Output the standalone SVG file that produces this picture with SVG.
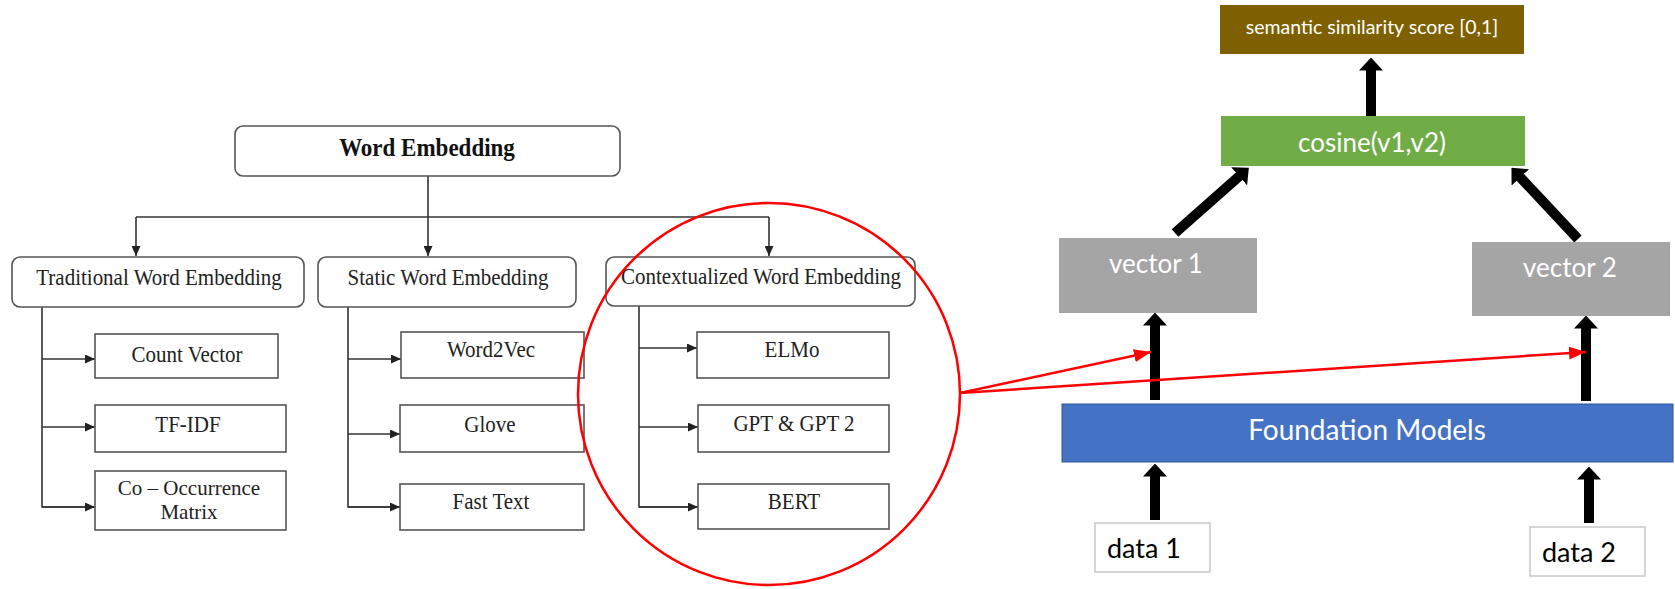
<svg xmlns="http://www.w3.org/2000/svg" width="1675" height="589" viewBox="0 0 1675 589">
<style>
.rb{fill:#fff;stroke:#555;stroke-width:1.6}
.lb{fill:#fff;stroke:#555;stroke-width:1.6}
.st{font-family:"Liberation Serif",serif;font-size:21px;fill:#222;text-anchor:middle}
.ln{fill:none;stroke:#333;stroke-width:1.6}
.tk{fill:none;stroke:#000;stroke-width:10}
.rd{fill:none;stroke:#f00;stroke-width:2.5}
.cb{font-family:Lato,"Open Sans",sans-serif;fill:#fff;text-anchor:middle}
</style>
<defs>
<marker id="sa" markerUnits="userSpaceOnUse" markerWidth="10" markerHeight="9" viewBox="0 0 10 9" refX="10" refY="4.5" orient="auto"><path d="M0,0 L10,4.5 L0,9 z" fill="#222"/></marker>
<marker id="ta" markerUnits="userSpaceOnUse" markerWidth="13" markerHeight="24" viewBox="0 0 13 24" refX="0.5" refY="12" orient="auto"><path d="M0,0 L13,12 L0,24 z" fill="#000"/></marker>
<marker id="ra" markerUnits="userSpaceOnUse" markerWidth="17" markerHeight="13" viewBox="0 0 17 13" refX="17" refY="6.5" orient="auto"><path d="M0,0 L17,6.5 L0,13 z" fill="#f00"/></marker>
</defs>
<rect width="1675" height="589" fill="#fff"/>

<g id="connectors">
<path class="ln" d="M428,176 V256" marker-end="url(#sa)"/>
<path class="ln" d="M136,217 H769"/>
<path class="ln" d="M136,217 V256" marker-end="url(#sa)"/>
<path class="ln" d="M769,217 V256" marker-end="url(#sa)"/>
<path class="ln" d="M42,307 V507 H95"/>
<path class="ln" d="M42,359 H95" marker-end="url(#sa)"/>
<path class="ln" d="M42,427 H95" marker-end="url(#sa)"/>
<path class="ln" d="M42,507 H95" marker-end="url(#sa)"/>
<path class="ln" d="M348,307 V507 H400"/>
<path class="ln" d="M348,359 H401" marker-end="url(#sa)"/>
<path class="ln" d="M348,434 H400" marker-end="url(#sa)"/>
<path class="ln" d="M348,507 H400" marker-end="url(#sa)"/>
<path class="ln" d="M639,306 V507 H698"/>
<path class="ln" d="M639,348 H697" marker-end="url(#sa)"/>
<path class="ln" d="M639,427 H698" marker-end="url(#sa)"/>
<path class="ln" d="M639,507 H698" marker-end="url(#sa)"/>
<path class="tk" d="M1371,116 V70" marker-end="url(#ta)"/>
<path class="tk" d="M1175,233 L1239.5,176" marker-end="url(#ta)"/>
<path class="tk" d="M1578,239 L1520,177" marker-end="url(#ta)"/>
<path class="tk" d="M1155,400 V325" marker-end="url(#ta)"/>
<path class="tk" d="M1586,401 V328" marker-end="url(#ta)"/>
<path class="tk" d="M1155,520 V476" marker-end="url(#ta)"/>
<path class="tk" d="M1589,523 V479" marker-end="url(#ta)"/>
</g>

<g id="word-embedding"><rect class="rb" x="235" y="126" width="385" height="50" rx="8"/><text transform="translate(427,156) scale(1,1.05)" style="font-family:'Liberation Serif',serif;font-size:23px;font-weight:bold;fill:#111;text-anchor:middle">Word Embedding</text></g>
<g id="traditional"><rect class="rb" x="12" y="257" width="292" height="50" rx="8"/><text class="st" transform="translate(159,285) scale(1,1.09)">Traditional Word Embedding</text></g>
<g id="static"><rect class="rb" x="318" y="257" width="258" height="50" rx="8"/><text class="st" transform="translate(448,285) scale(1,1.09)">Static Word Embedding</text></g>
<g id="contextualized"><rect class="rb" x="606" y="257" width="309" height="49" rx="8"/><text class="st" transform="translate(761,284) scale(1,1.09)">Contextualized Word Embedding</text></g>
<g id="count-vector"><rect class="lb" x="95" y="334" width="183" height="44"/><text class="st" transform="translate(187,362) scale(1,1.09)">Count Vector</text></g>
<g id="tf-idf"><rect class="lb" x="95" y="405" width="191" height="47"/><text class="st" transform="translate(188,432) scale(1,1.09)">TF-IDF</text></g>
<g id="co-occurrence"><rect class="lb" x="95" y="471" width="191" height="59"/><text class="st" x="189" y="495" font-size="20.5">Co – Occurrence</text><text class="st" x="189" y="519" font-size="20.5">Matrix</text></g>
<g id="word2vec"><rect class="lb" x="401" y="332" width="183" height="46"/><text class="st" transform="translate(491,357) scale(1,1.09)">Word2Vec</text></g>
<g id="glove"><rect class="lb" x="400" y="405" width="184" height="47"/><text class="st" transform="translate(490,432) scale(1,1.09)">Glove</text></g>
<g id="fasttext"><rect class="lb" x="400" y="484" width="184" height="46"/><text class="st" transform="translate(491,509) scale(1,1.09)">Fast Text</text></g>
<g id="elmo"><rect class="lb" x="697" y="332" width="192" height="46"/><text class="st" transform="translate(792,357) scale(1,1.09)">ELMo</text></g>
<g id="gpt"><rect class="lb" x="698" y="405" width="191" height="47"/><text class="st" transform="translate(794,431) scale(1,1.09)">GPT &amp; GPT 2</text></g>
<g id="bert"><rect class="lb" x="698" y="484" width="191" height="45"/><text class="st" transform="translate(794,509) scale(1,1.09)">BERT</text></g>

<g id="semantic"><rect x="1220" y="5" width="304" height="49" fill="#7F6000"/><text class="cb" x="1372" y="34" font-size="19.5">semantic similarity score [0,1]</text></g>
<g id="cosine"><rect x="1221" y="116" width="304" height="50" fill="#70AD47"/><text class="cb" x="1372" y="152" font-size="26">cosine(v1,v2)</text></g>
<g id="vector1"><rect x="1059" y="238" width="198" height="75" fill="#A5A5A5"/><text class="cb" x="1156" y="273" font-size="26">vector 1</text></g>
<g id="vector2"><rect x="1472" y="242" width="198" height="74" fill="#A5A5A5"/><text class="cb" x="1570" y="277" font-size="26">vector 2</text></g>
<g id="foundation"><rect x="1062" y="404" width="611" height="58" fill="#4472C4" stroke="#2F5597" stroke-width="1"/><text class="cb" x="1367" y="440" font-size="28">Foundation Models</text></g>
<g id="data1"><rect x="1095" y="523" width="115" height="49" fill="#fff" stroke="#C8C8C8" stroke-width="1.5"/><text x="1107" y="558" style="font-family:Lato,'Open Sans',sans-serif;font-size:27px;fill:#000">data 1</text></g>
<g id="data2"><rect x="1530" y="527" width="115" height="49" fill="#fff" stroke="#C8C8C8" stroke-width="1.5"/><text x="1542" y="562" style="font-family:Lato,'Open Sans',sans-serif;font-size:27px;fill:#000">data 2</text></g>

<g id="highlight">
<circle cx="769" cy="394" r="191" fill="none" stroke="#f00" stroke-width="2.5"/>
<path class="rd" d="M960,393 L1151,352" marker-end="url(#ra)"/>
<path class="rd" d="M960,393 L1586,352" marker-end="url(#ra)"/>
</g>
</svg>
